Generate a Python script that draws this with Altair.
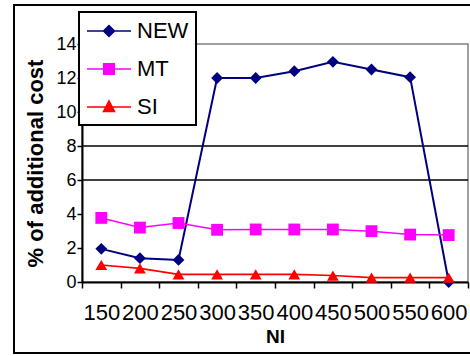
import altair as alt
import pandas as pd

# ---- data ----
ni = [150, 200, 250, 300, 350, 400, 450, 500, 550, 600]
new_vals = [1.95, 1.4, 1.3, 12.0, 12.0, 12.4, 12.95, 12.5, 12.05, 0.0]
mt_vals = [3.77, 3.2, 3.47, 3.07, 3.09, 3.09, 3.09, 2.99, 2.79, 2.76]
si_vals = [1.0, 0.8, 0.45, 0.45, 0.45, 0.45, 0.38, 0.26, 0.26, 0.26]
series = ["NEW", "MT", "SI"]
colors = ["#000080", "#FF00FF", "#FF0000"]
shapes = ["diamond", "square", "triangle-up"]
widths = [2.0, 1.5, 1.6]
y_ticks = [0, 2, 4, 6, 8, 10, 12, 14]
x_bounds = [125, 175, 225, 275, 325, 375, 425, 475, 525, 575, 625]
grid_values = [6, 8]

# legend symbols: a line segment with the series marker in the middle
legend_paths = [
    "M-2,0H2M0,-0.5L0.5,0L0,0.5L-0.5,0Z",
    "M-2,0H2M-0.48,-0.48H0.48V0.48H-0.48Z",
    "M-2,0H2M0,-0.55L0.5,0.4H-0.5Z",
]

rows = []
for name, vals in zip(series, [new_vals, mt_vals, si_vals]):
    for x, v in zip(ni, vals):
        rows.append({"NI": x, "series": name, "value": v})
df = pd.DataFrame(rows)

FONT = "Liberation Sans"
W, H = 386, 238
half_band = W / len(ni) / 2

xscale = alt.Scale(domain=[125, 625], nice=False, zero=False)
yscale = alt.Scale(domain=[0, 14], nice=False)

y_axis = alt.Axis(
    values=y_ticks, title="% of additional cost", titleFont=FONT, titleFontSize=22,
    titleFontWeight="bold", titleColor="black", titlePadding=8,
    labelFont=FONT, labelFontSize=18, labelColor="black", labelPadding=1,
    tickSize=5, tickColor="black", tickWidth=1.5,
    domainColor="black", domainWidth=2, grid=False,
)

# ticks at the category boundaries, each label shifted to the centre of its category
x_axis = alt.Axis(
    values=x_bounds, orient="bottom", tickSize=6, tickColor="black", tickWidth=1.5,
    domainColor="black", domainWidth=2, grid=False,
    labelExpr=f"datum.value < {max(ni)} ? '' + (datum.value + {ni[1] - ni[0]} / 2) : ''",
    labelOffset=half_band,
    labelFont=FONT, labelFontSize=22, labelColor="black", labelBaseline="alphabetic",
    labelPadding=31, labelOverlap=False, labelFlush=False,
    title="NI", titleFont=FONT, titleFontSize=19, titleFontWeight="bold",
    titleColor="black", titlePadding=4,
)

X = alt.X("NI:Q", scale=xscale, axis=x_axis)
Y = alt.Y("value:Q", scale=yscale, axis=y_axis)

frame = alt.Chart(pd.DataFrame({"a": [0]})).mark_rect(
    fillOpacity=0, stroke="black", strokeWidth=2
).encode(
    x=alt.value(-68), x2=alt.value(420), y=alt.value(-39), y2=alt.value(309)
)

grid = alt.Chart(pd.DataFrame({"g": grid_values})).mark_rule(
    color="black", strokeWidth=1.5
).encode(
    y=alt.Y("g:Q", scale=yscale, axis=y_axis)
)

line_layers = []
point_layers = []
for name, col, shp, sw in zip(series, colors, shapes, widths):
    base = alt.Chart(df).transform_filter(alt.datum.series == name)
    line_layers.append(
        base.mark_line(color=col, strokeWidth=sw).encode(x=X, y=Y, order=alt.Order("NI:Q"))
    )
    point_layers.append(
        base.mark_point(filled=True, size=140, opacity=1, shape=shp, color=col).encode(x=X, y=Y)
    )

leg = alt.Legend(
    title=None, orient="none", legendX=-3, legendY=-32,
    fillColor="white", strokeColor="black", padding=7,
    symbolSize=484, symbolOffset=11, symbolStrokeWidth=1.5, symbolOpacity=1,
    labelFont=FONT, labelFontSize=22, labelColor="black", labelOffset=16,
    rowPadding=15,
)

legend_layer = alt.Chart(df).mark_point(filled=True, opacity=0).encode(
    x=X, y=Y,
    fill=alt.Fill("series:N", scale=alt.Scale(domain=series, range=colors), legend=leg, sort=series),
    stroke=alt.Stroke("series:N", scale=alt.Scale(domain=series, range=colors), legend=leg, sort=series),
    shape=alt.Shape("series:N", scale=alt.Scale(domain=series, range=legend_paths), legend=leg, sort=series),
)

chart = alt.layer(frame, grid, *line_layers, *point_layers, legend_layer).properties(
    width=W, height=H,
    autosize=alt.AutoSizeParams(type="none"),
    padding={"left": 82, "top": 44, "right": 2, "bottom": 74},
    background="white",
).configure_view(
    stroke="#808080", strokeWidth=1.5
).configure_legend(
    strokeWidth=2
)

chart.save("out.html", embed_options={"renderer": "svg", "actions": False})
